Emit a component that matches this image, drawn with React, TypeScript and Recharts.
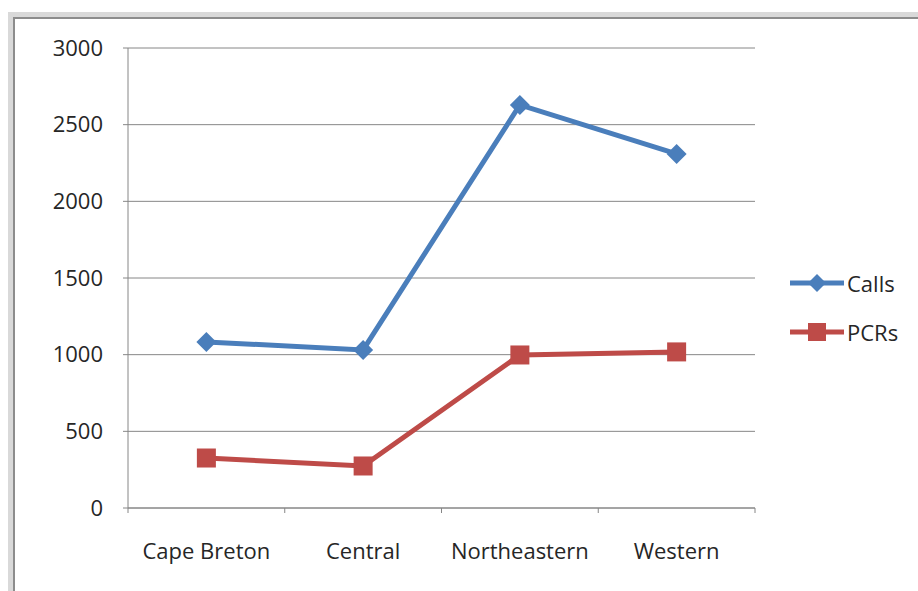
import { LineChart, Line, XAxis, YAxis, CartesianGrid, Legend } from 'recharts'

const categories = ['Cape Breton', 'Central', 'Northeastern', 'Western']
const calls = [1083, 1031, 2629, 2309]
const pcrs = [326, 274, 998, 1018]
const yTicks = [0, 500, 1000, 1500, 2000, 2500, 3000]

const data = categories.map((name, i) => ({ name, calls: calls[i], pcrs: pcrs[i] }))

const FONT = '"Open Sans", sans-serif'
const AXIS = '#868686'
const BLUE = '#4a7ebb'
const RED = '#be4b48'
const PLOT_W = 627
const STEP = PLOT_W / categories.length

function Diamond({ cx, cy }: any) {
  if (cx == null || cy == null) return null
  const r = 10
  return <polygon points={`${cx},${cy - r} ${cx + r},${cy} ${cx},${cy + r} ${cx - r},${cy}`} fill={BLUE} />
}

function Square({ cx, cy }: any) {
  if (cx == null || cy == null) return null
  const s = 19
  return <rect x={cx - s / 2} y={cy - s / 2} width={s} height={s} fill={RED} />
}

function CategoryTick({ x, y, payload, index }: any) {
  const left = x - STEP / 2
  return (
    <g>
      <line x1={left} y1={y - 8} x2={left} y2={y - 3} stroke={AXIS} />
      {index === categories.length - 1 && (
        <line x1={x + STEP / 2} y1={y - 8} x2={x + STEP / 2} y2={y - 3} stroke={AXIS} />
      )}
      <text x={x} y={y + 43} textAnchor="middle" fill="#262626" fontSize={22} fontFamily={FONT}>
        {payload.value}
      </text>
    </g>
  )
}

function LegendBox() {
  const items = [
    { label: 'Calls', color: BLUE, marker: 'diamond' },
    { label: 'PCRs', color: RED, marker: 'square' },
  ]
  return (
    <div>
      {items.map((it) => (
        <div key={it.label} style={{ display: 'flex', alignItems: 'center', height: 49 }}>
          <svg width={57} height={24}>
            <line x1={0} y1={12} x2={54} y2={12} stroke={it.color} strokeWidth={5} />
            {it.marker === 'diamond' ? (
              <polygon points="27,3 36,12 27,21 18,12" fill={it.color} />
            ) : (
              <rect x={18} y={3} width={18} height={18} fill={it.color} />
            )}
          </svg>
          <span style={{ fontFamily: FONT, fontSize: 22, color: '#262626' }}>{it.label}</span>
        </div>
      ))}
    </div>
  )
}

export default function App() {
  return (
    <div style={{ position: 'fixed', left: 0, top: 0, width: 918, height: 591, background: '#fff', overflow: 'hidden' }}>
      <div style={{ position: 'absolute', left: 8, top: 12, width: 910, height: 5, background: '#d9d9d9' }} />
      <div style={{ position: 'absolute', left: 8, top: 12, width: 5, height: 579, background: '#d9d9d9' }} />
      <div style={{ position: 'absolute', left: 13, top: 17, width: 905, height: 2, background: '#8c8c8c' }} />
      <div style={{ position: 'absolute', left: 13, top: 17, width: 2, height: 574, background: '#8c8c8c' }} />
      <div style={{ position: 'absolute', left: 0, top: 0 }}>
        <LineChart
          width={918}
          height={591}
          data={data}
          margin={{ top: 48, right: 163, left: 48, bottom: 23 }}
        >
          <CartesianGrid horizontal vertical={false} stroke={AXIS} strokeWidth={1} />
          <XAxis
            dataKey="name"
            height={60}
            padding={{ left: STEP / 2, right: STEP / 2 }}
            axisLine={{ stroke: AXIS }}
            tickLine={false}
            interval={0}
            tick={<CategoryTick />}
          />
          <YAxis
            width={80}
            domain={[0, 3000]}
            ticks={yTicks}
            interval={0}
            axisLine={{ stroke: AXIS }}
            tickLine={{ stroke: AXIS }}
            tickSize={5}
            tickMargin={20}
            tick={{ fill: '#262626', fontSize: 22, fontFamily: FONT }}
          />
          <Legend
            layout="vertical"
            align="center"
            verticalAlign="middle"
            wrapperStyle={{ left: 790, top: 258, width: 125 }}
            content={<LegendBox />}
          />
          <Line
            dataKey="calls"
            name="Calls"
            stroke={BLUE}
            strokeWidth={5}
            dot={<Diamond />}
            activeDot={false}
            isAnimationActive={false}
          />
          <Line
            dataKey="pcrs"
            name="PCRs"
            stroke={RED}
            strokeWidth={5}
            dot={<Square />}
            activeDot={false}
            isAnimationActive={false}
          />
        </LineChart>
      </div>
    </div>
  )
}
